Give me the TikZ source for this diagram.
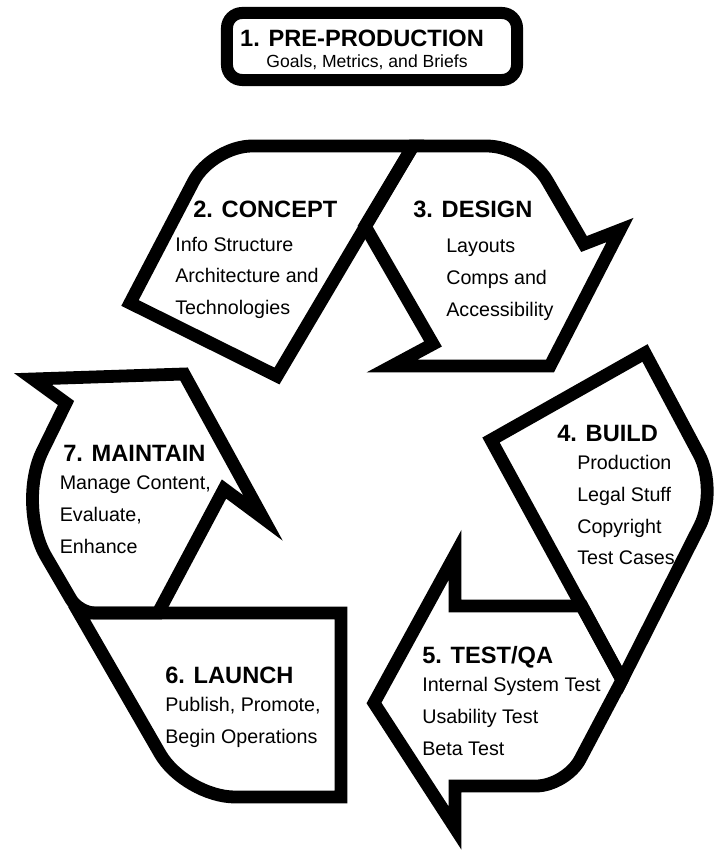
\documentclass[tikz,border=0pt]{standalone}
\usepackage{fontspec}
\setmainfont{Liberation Sans}
\usetikzlibrary{positioning}

\begin{document}
\begin{tikzpicture}[x=0.025cm, y=-0.025cm,
    band/.style={line width=0.32cm, line join=miter, miter limit=20},
    head/.style={font=\fontsize{16.8}{18}\selectfont\bfseries, inner sep=0pt, anchor=base west},
    item/.style={font=\fontsize{14}{16}\selectfont, inner sep=0pt, anchor=base west}]
    \useasboundingbox (0,0) rectangle (714,853);

    % pre-production box
    \node[draw, line width=0.3cm, rounded corners=0.38cm, minimum width=7.25cm, minimum height=1.675cm] (pre) at (372,46.5) {};
    \node[head, anchor=base] (preT) at (362,47) {1. PRE-PRODUCTION};
    \node[font=\fontsize{12.5}{14}\selectfont, inner sep=0pt, anchor=base] (preS) at (367,68) {Goals, Metrics, and Briefs};

    % top arrow: concept + design
    \draw[band] (413,146) [rounded corners=1cm] -- (212,146) [sharp corners] -- (130,303) -- (277,376) -- cycle;
    \draw[band] (413,146) -- (365,226) -- (433,344) -- (392,366) -- (550,366) -- (620,230) -- (584,244)
        [rounded corners=1cm] -- (527,146) [sharp corners] -- cycle;

    % right arrow: build + test
    \draw[band] (491,440) -- (645,353) [rounded corners=1cm] -- (718,490) [sharp corners] -- (622,680) -- cycle;
    \draw[band] (582,606) -- (455,606) -- (455,555) -- (374,703) -- (455,828) -- (455,786)
        [rounded corners=0.75cm] -- (566,786) [sharp corners] -- (622,680) -- cycle;

    % left arrow: launch + maintain
    \draw[band] (79,613) -- (341,613) -- (341,797) [rounded corners=1.25cm] -- (185,797) [sharp corners] -- cycle;
    \draw[band] (158,613) -- (224,489) -- (263,518) -- (184,374) -- (33,379) -- (66,403)
        [rounded corners=1.5cm] -- (16,505) [rounded corners=0.4cm] -- (79,613) [sharp corners] -- cycle;

    % labels
    \node[head] (concept) at (193,218) {2. CONCEPT};
    \foreach \txt [count=\i] in {Info Structure, Architecture and, Technologies}
        \node[item] (concept\i) at (175,{251+31.5*(\i-1)}) {\txt};

    \node[head] (design) at (413,218) {3. DESIGN};
    \foreach \txt [count=\i] in {Layouts, Comps and, Accessibility}
        \node[item] (design\i) at (446,{252.5+32*(\i-1)}) {\txt};

    \node[head] (build) at (557,441) {4. BUILD};
    \foreach \txt [count=\i] in {Production, Legal Stuff, Copyright, Test Cases}
        \node[item] (build\i) at (577,{469.5+31.8*(\i-1)}) {\txt};

    \node[head] (test) at (422,663.5) {5. TEST/QA};
    \foreach \txt [count=\i] in {Internal System Test, Usability Test, Beta Test}
        \node[item] (test\i) at (422,{691.8+31.7*(\i-1)}) {\txt};

    \node[head] (launch) at (165,683) {6. LAUNCH};
    \foreach \txt [count=\i] in {{Publish, Promote,}, Begin Operations}
        \node[item] (launch\i) at (165,{711.7+31.5*(\i-1)}) {\txt};

    \node[head] (maintain) at (63,461) {7. MAINTAIN};
    \foreach \txt [count=\i] in {{Manage Content,}, {Evaluate,}, Enhance}
        \node[item] (maintain\i) at (59.5,{489.5+31.8*(\i-1)}) {\txt};
\end{tikzpicture}
\end{document}
